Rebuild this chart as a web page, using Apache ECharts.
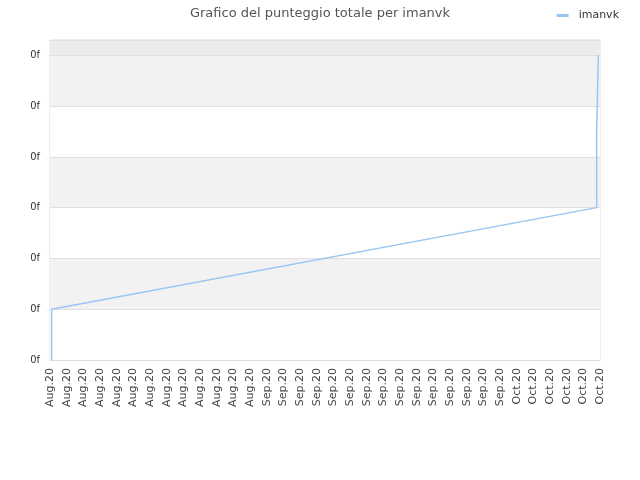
<!DOCTYPE html>
<html>
<head>
<meta charset="utf-8">
<script src="https://cdn.jsdelivr.net/npm/echarts@6/dist/echarts.min.js"></script>
<style>
    html, body { margin: 0; padding: 0; background: #fff; }
    #chart { width: 640px; height: 480px; }
</style>
</head>
<body>
<div id="chart"></div>
<script>
// Date labels along the x axis (one per tick)
var dateLabels = [
    'Aug.20', 'Aug.20', 'Aug.20', 'Aug.20', 'Aug.20', 'Aug.20', 'Aug.20',
    'Aug.20', 'Aug.20', 'Aug.20', 'Aug.20', 'Aug.20', 'Aug.20',
    'Sep.20', 'Sep.20', 'Sep.20', 'Sep.20', 'Sep.20', 'Sep.20', 'Sep.20',
    'Sep.20', 'Sep.20', 'Sep.20', 'Sep.20', 'Sep.20', 'Sep.20', 'Sep.20', 'Sep.20',
    'Oct.20', 'Oct.20', 'Oct.20', 'Oct.20', 'Oct.20', 'Oct.20'
];

// Score line: x position (in tick units), total score
var scoreX = [0.1, 0.1, 32.8, 32.8, 32.9, 32.9];
var scoreY = [0, 1, 3, 4.5, 4.5, 6];

var playerName = 'imanvk';

var chart = echarts.init(document.getElementById('chart'));

var option = {
    animation: false,
    title: {
        text: 'Grafico del punteggio totale per ' + playerName,
        left: 'center',
        top: 2,
        textStyle: {
            fontFamily: 'DejaVu Sans',
            fontSize: 13,
            fontWeight: 'normal',
            color: '#555'
        }
    },
    legend: {
        right: 16,
        top: 5,
        itemWidth: 12,
        itemHeight: 3,
        icon: 'rect',
        textStyle: {
            fontFamily: 'DejaVu Sans',
            fontSize: 11,
            color: '#333',
            padding: [0, 0, 0, 5]
        },
        data: [playerName]
    },
    grid: {
        left: 50,
        right: 40,
        top: 40,
        bottom: 120,
        show: true,
        borderColor: '#ddd',
        borderWidth: 1
    },
    xAxis: {
        type: 'value',
        min: 0,
        max: dateLabels.length - 1,
        interval: 1,
        axisLine: { lineStyle: { color: '#ddd' } },
        axisTick: { show: false },
        splitLine: { show: false },
        axisLabel: {
            rotate: 90,
            margin: 8,
            fontFamily: 'DejaVu Sans',
            fontSize: 11,
            color: '#444',
            formatter: function(v) { return dateLabels[Math.round(v)] || ''; }
        }
    },
    yAxis: {
        type: 'value',
        min: 0,
        max: 6.3,
        interval: 1,
        axisLine: { show: false },
        axisTick: { show: false },
        axisLabel: {
            showMaxLabel: false,
            margin: 10,
            fontFamily: 'DejaVu Sans Condensed',
            fontSize: 11,
            color: '#333',
            formatter: function() { return '0f'; }
        },
        splitLine: { lineStyle: { color: '#e0e0e0' } },
        splitArea: {
            show: true,
            areaStyle: {
                color: ['#ffffff', '#f2f2f2', '#ffffff', '#f2f2f2', '#ffffff', '#f2f2f2', '#ececec']
            }
        }
    },
    series: [{
        name: playerName,
        type: 'line',
        showSymbol: false,
        symbol: 'none',
        color: '#99c6f2',
        lineStyle: { width: 1.5, color: '#99c6f2' },
        data: scoreX.map(function(x, i) { return [x, scoreY[i]]; })
    }]
};

chart.setOption(option);
</script>
</body>
</html>
